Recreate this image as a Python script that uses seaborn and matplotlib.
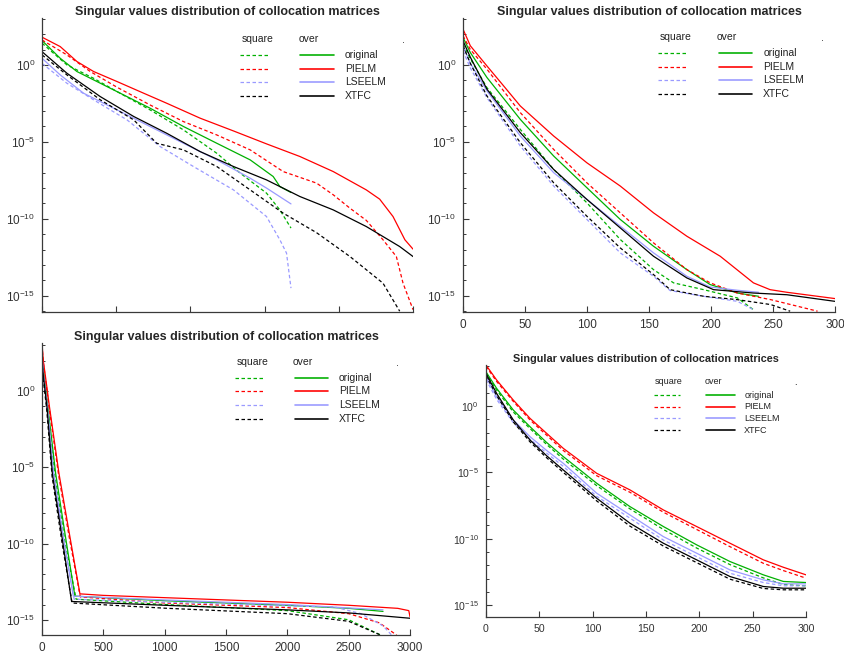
import matplotlib
matplotlib.use("Agg")
import matplotlib.pyplot as plt
import numpy as np
import seaborn as sns
from matplotlib.ticker import FixedLocator, LogFormatterMathtext, NullFormatter

# values as log10 of the singular value
METHODS = ["original", "PIELM", "LSEELM", "XTFC"]
COLORS = {"original": "#00b000", "PIELM": "#ff0000", "LSEELM": "#9a9aff", "XTFC": "#000000"}
TITLE = "Singular values distribution of collocation matrices"

# ---- panel 1 (top left, x tick labels hidden) ----
p1_orig_over_x = [0, 4.9, 9.4, 15.7, 22.9, 29.1, 38.1, 47.1, 56.1, 62.3, 64.1, 67.1]
p1_orig_over_y = [1.58, 0.43, -0.43, -1.19, -2.06, -2.81, -4.0, -5.09, -6.17, -7.25, -7.9, -8.29]
p1_orig_sq_x = [0, 6.7, 13.9, 20.2, 29.1, 38.1, 47.1, 53.4, 60.5, 64.1, 67.1]
p1_orig_sq_y = [1.41, 0.0, -0.87, -1.73, -2.92, -4.22, -5.74, -7.03, -8.33, -9.42, -10.6]
p1_pielm_over_x = [0, 4.9, 9.4, 13.9, 20.2, 27.4, 33.6, 42.6, 51.6, 60.5, 69.5, 78.5, 87.4, 91.0, 94.6, 97.8, 100]
p1_pielm_over_y = [1.8, 1.19, 0.22, -0.43, -1.08, -1.84, -2.49, -3.46, -4.29, -5.13, -5.95, -6.93, -8.12, -8.72, -9.85, -11.36, -11.97]
p1_pielm_sq_x = [0, 6.7, 13, 20.2, 29.1, 38.1, 47.1, 56.1, 65, 74, 78.5, 83, 87.4, 91.9, 95.5, 97.3, 100]
p1_pielm_sq_y = [1.62, 0.65, -0.43, -1.45, -2.6, -3.68, -4.55, -5.52, -6.93, -7.68, -8.44, -9.31, -10.1, -11.36, -12.45, -14.18, -15.9]
p1_lse_over_x = [0, 4.9, 11.2, 20.2, 29.1, 38.1, 47.1, 56.1, 60.5, 67.1]
p1_lse_over_y = [0.43, -0.65, -1.84, -2.92, -4.0, -5.09, -6.17, -7.36, -8.0, -9.03]
p1_lse_sq_x = [0, 6.7, 13.9, 22.9, 31.8, 40.8, 51.6, 60.5, 64.1, 65.9, 67.1]
p1_lse_sq_y = [0.1, -1.19, -2.27, -3.57, -5.3, -6.6, -8.12, -9.85, -11.36, -12.23, -14.5]
p1_xtfc_over_x = [0, 6.7, 15.7, 24.7, 33.6, 42.6, 51.6, 60.5, 69.5, 78.5, 87.4, 96.4, 100]
p1_xtfc_over_y = [0.86, -0.54, -2.06, -3.35, -4.44, -5.63, -6.6, -7.47, -8.55, -9.42, -10.5, -11.8, -12.45]
p1_xtfc_sq_x = [0, 6.7, 15.7, 24.7, 30.9, 38.1, 47.1, 56.1, 65, 74, 83, 91.9, 96.4]
p1_xtfc_sq_y = [0.65, -0.65, -2.27, -3.57, -5.09, -5.52, -6.6, -8.12, -9.63, -10.9, -12.45, -14.18, -16.0]

# ---- panel 2 (top right) ----
p2_orig_over_x = [0, 5.9, 19.3, 46.2, 73.1, 99.9, 126.8, 153.6, 180.5, 199.3, 221.3, 238.3]
p2_orig_over_y = [1.78, 0.8, -0.82, -3.54, -5.92, -7.98, -10.04, -11.78, -13.3, -14.27, -14.82, -15.03]
p2_orig_sq_x = [0, 5.9, 19.3, 46.2, 73.1, 99.9, 126.8, 153.6, 169.8, 194, 221.3, 234.2]
p2_orig_sq_y = [1.34, 0.4, -1.48, -4.19, -6.79, -8.96, -11.34, -13.3, -14.16, -14.6, -15.14, -15.9]
p2_pielm_over_x = [0, 5.9, 19.3, 32.8, 46.2, 73.1, 99.9, 126.8, 153.6, 180.5, 207.4, 234.2, 247.6, 261.1, 300]
p2_pielm_over_y = [2.32, 1.24, -0.07, -1.37, -2.67, -4.62, -6.36, -7.87, -9.61, -11.13, -12.43, -14.16, -14.6, -14.77, -15.18]
p2_pielm_sq_x = [0, 5.9, 19.3, 46.2, 73.1, 99.9, 126.8, 153.6, 180.5, 199.3, 221.3, 248.2, 285.9]
p2_pielm_sq_y = [1.89, 1.0, -0.28, -3.1, -5.49, -7.66, -9.61, -11.56, -13.3, -14.16, -14.82, -15.25, -16.0]
p2_lse_over_x = [0, 5.9, 19.3, 46.2, 73.1, 99.9, 126.8, 153.6, 180.5, 199.3, 221.3, 238.3]
p2_lse_over_y = [1.24, 0.1, -1.69, -4.62, -7.0, -8.74, -10.48, -12.21, -13.73, -14.43, -14.64, -14.77]
p2_lse_sq_x = [0, 5.9, 19.3, 46.2, 73.1, 99.9, 126.8, 153.6, 167, 194, 221.3, 234.2]
p2_lse_sq_y = [0.91, -0.2, -2.13, -5.27, -7.87, -10.04, -12.21, -13.73, -14.66, -15.03, -15.36, -15.9]
p2_xtfc_over_x = [0, 5.9, 19.3, 46.2, 73.1, 99.9, 126.8, 153.6, 180.5, 202, 234.2, 261.1, 300]
p2_xtfc_over_y = [1.56, 0.5, -1.58, -4.4, -6.79, -8.74, -10.59, -12.43, -13.84, -14.6, -14.82, -14.93, -15.36]
p2_xtfc_sq_x = [0, 5.9, 19.3, 46.2, 73.1, 99.9, 126.8, 153.6, 167, 194, 221.3, 248.2, 263.8]
p2_xtfc_sq_y = [1.24, 0.1, -2.02, -5.05, -7.66, -9.83, -11.89, -13.62, -14.6, -15.03, -15.25, -15.57, -16.0]

# ---- panel 3 (bottom left) ----
p3_orig_over_x = [0, 16, 50, 111, 190, 268, 500, 1000, 1500, 2000, 2500, 2780]
p3_orig_over_y = [2.6, 1.18, -1.2, -5.4, -9.5, -13.45, -13.55, -13.75, -13.9, -14.05, -14.25, -14.45]
p3_orig_sq_x = [0, 14, 47, 106, 185, 278, 1000, 2000, 2500, 2760]
p3_orig_sq_y = [2.4, 1.0, -1.4, -5.6, -9.8, -13.65, -14.0, -14.4, -15.0, -16.0]
p3_pielm_over_x = [0, 10, 24, 60, 138, 225, 309, 500, 1000, 1500, 2000, 2500, 2900, 2990, 3000]
p3_pielm_over_y = [3.1, 2.0, 1.2, -1.0, -5.4, -9.45, -13.3, -13.4, -13.55, -13.7, -13.85, -14.05, -14.25, -14.4, -14.8]
p3_pielm_sq_x = [0, 10, 23, 58, 135, 222, 312, 1000, 2000, 2500, 2750, 2890]
p3_pielm_sq_y = [3.0, 1.9, 1.1, -1.1, -5.5, -9.6, -13.5, -13.9, -14.2, -14.6, -15.2, -16.0]
p3_lse_over_x = [0, 11, 44, 95, 175, 255, 1000, 2000, 2780]
p3_lse_over_y = [2.3, 1.18, -1.03, -5.4, -9.6, -13.45, -13.7, -14.0, -14.35]
p3_lse_sq_x = [0, 10, 42, 92, 172, 262, 1000, 2000, 2380, 2600, 2780, 2850]
p3_lse_sq_y = [2.1, 1.0, -1.2, -5.6, -9.8, -13.65, -13.85, -14.1, -14.15, -14.6, -15.4, -16.0]
p3_xtfc_over_x = [0, 8, 40, 84, 165, 241, 1000, 2000, 2500, 3000]
p3_xtfc_over_y = [2.2, 1.18, -1.03, -5.4, -9.7, -13.8, -14.05, -14.35, -14.55, -14.9]
p3_xtfc_sq_x = [0, 7, 38, 82, 162, 245, 1000, 2000, 2500, 2760]
p3_xtfc_sq_y = [2.0, 1.0, -1.2, -5.6, -9.9, -13.9, -14.24, -14.6, -15.1, -16.0]

# ---- panel 4 (bottom right) ----
p4_x = [0, 10, 25.6, 41.3, 56.9, 72.5, 103.8, 135, 166.3, 197.5, 228.8, 260, 278.8, 300]
p4_orig_over_y = [2.58, 1.33, -0.3, -1.56, -2.75, -3.81, -5.82, -7.58, -9.08, -10.46, -11.72, -12.72, -13.22, -13.3]
p4_orig_sq_y = [2.5, 1.2, -0.45, -1.7, -2.9, -4.0, -6.0, -7.75, -9.3, -10.7, -11.95, -12.95, -13.45, -13.55]
p4_pielm_over_y = [3.09, 1.96, 0.45, -0.93, -2.06, -3.19, -5.07, -6.32, -7.83, -9.08, -10.34, -11.59, -12.15, -12.72]
p4_pielm_sq_y = [3.0, 1.85, 0.35, -1.05, -2.2, -3.35, -5.25, -6.5, -8.0, -9.3, -10.6, -11.85, -12.4, -12.97]
p4_lse_over_y = [2.2, 0.7, -1.05, -2.31, -3.35, -4.32, -6.57, -8.21, -9.84, -11.09, -12.35, -13.1, -13.4, -13.4]
p4_lse_sq_y = [2.0, 0.5, -1.25, -2.5, -3.55, -4.55, -6.8, -8.45, -10.1, -11.35, -12.6, -13.3, -13.55, -13.55]
p4_xtfc_over_y = [2.46, 0.95, -1.05, -2.56, -3.75, -4.82, -6.95, -8.83, -10.34, -11.59, -12.85, -13.6, -13.73, -13.73]
p4_xtfc_sq_y = [2.3, 0.8, -1.2, -2.7, -3.9, -5.0, -7.15, -9.05, -10.55, -11.8, -13.05, -13.75, -13.85, -13.85]

PANELS = [
    {
        "rect": [0.0498, 0.5237, 0.4396, 0.4489], "xlim": (0, 100), "xticks": [0, 20, 40, 60, 80, 100],
        "ylim": (-16.05, 3.05), "xlabels": False, "fs": (9.0, 8.5, 7.5), "key_dx": 0.009, "key_dy": -0.006,
        "series": {
            ("original", "over"): (p1_orig_over_x, p1_orig_over_y),
            ("original", "square"): (p1_orig_sq_x, p1_orig_sq_y),
            ("PIELM", "over"): (p1_pielm_over_x, p1_pielm_over_y),
            ("PIELM", "square"): (p1_pielm_sq_x, p1_pielm_sq_y),
            ("LSEELM", "over"): (p1_lse_over_x, p1_lse_over_y),
            ("LSEELM", "square"): (p1_lse_sq_x, p1_lse_sq_y),
            ("XTFC", "over"): (p1_xtfc_over_x, p1_xtfc_over_y),
            ("XTFC", "square"): (p1_xtfc_sq_x, p1_xtfc_sq_y),
        },
    },
    {
        "rect": [0.5486, 0.5237, 0.4408, 0.4489], "xlim": (0, 300), "xticks": [0, 50, 100, 150, 200, 250, 300],
        "ylim": (-16.05, 3.05), "xlabels": True, "fs": (9.0, 8.5, 7.5), "key_dx": 0.0, "key_dy": 0.0,
        "series": {
            ("original", "over"): (p2_orig_over_x, p2_orig_over_y),
            ("original", "square"): (p2_orig_sq_x, p2_orig_sq_y),
            ("PIELM", "over"): (p2_pielm_over_x, p2_pielm_over_y),
            ("PIELM", "square"): (p2_pielm_sq_x, p2_pielm_sq_y),
            ("LSEELM", "over"): (p2_lse_over_x, p2_lse_over_y),
            ("LSEELM", "square"): (p2_lse_sq_x, p2_lse_sq_y),
            ("XTFC", "over"): (p2_xtfc_over_x, p2_xtfc_over_y),
            ("XTFC", "square"): (p2_xtfc_sq_x, p2_xtfc_sq_y),
        },
    },
    {
        "rect": [0.0498, 0.0305, 0.4360, 0.4458], "xlim": (0, 3000), "xticks": [0, 500, 1000, 1500, 2000, 2500, 3000],
        "ylim": (-16.0, 3.15), "xlabels": True, "fs": (9.0, 8.5, 7.5), "key_dx": 0.0, "key_dy": 0.0,
        "series": {
            ("original", "over"): (p3_orig_over_x, p3_orig_over_y),
            ("original", "square"): (p3_orig_sq_x, p3_orig_sq_y),
            ("PIELM", "over"): (p3_pielm_over_x, p3_pielm_over_y),
            ("PIELM", "square"): (p3_pielm_sq_x, p3_pielm_sq_y),
            ("LSEELM", "over"): (p3_lse_over_x, p3_lse_over_y),
            ("LSEELM", "square"): (p3_lse_sq_x, p3_lse_sq_y),
            ("XTFC", "over"): (p3_xtfc_over_x, p3_xtfc_over_y),
            ("XTFC", "square"): (p3_xtfc_sq_x, p3_xtfc_sq_y),
        },
    },
    {
        "rect": [0.5758, 0.0580, 0.3791, 0.3847], "xlim": (0, 300), "xticks": [0, 50, 100, 150, 200, 250, 300],
        "ylim": (-15.9, 3.09), "xlabels": True, "fs": (7.8, 7.6, 6.5), "key_dx": 0.0, "key_dy": 0.0,
        "series": {
            ("original", "over"): (p4_x, p4_orig_over_y),
            ("original", "square"): (p4_x, p4_orig_sq_y),
            ("PIELM", "over"): (p4_x, p4_pielm_over_y),
            ("PIELM", "square"): (p4_x, p4_pielm_sq_y),
            ("LSEELM", "over"): (p4_x, p4_lse_over_y),
            ("LSEELM", "square"): (p4_x, p4_lse_sq_y),
            ("XTFC", "over"): (p4_x, p4_xtfc_over_y),
            ("XTFC", "square"): (p4_x, p4_xtfc_sq_y),
        },
    },
]

DASH = (0, (2.8, 2.0))
LW = 0.9
AXIS_GRAY = "#3a3a3a"

sns.set_style("ticks")
plt.rcParams["font.family"] = ["Liberation Sans", "DejaVu Sans"]
plt.rcParams["mathtext.fontset"] = "custom"
plt.rcParams["mathtext.rm"] = "Liberation Sans"
plt.rcParams["mathtext.default"] = "regular"


def draw_key(ax, fs, dx, dy):
    tr = ax.transAxes
    txt = dict(transform=tr, fontsize=fs, color="#222222", va="center", ha="left")
    ax.text(0.528 + dx, 0.935 + dy, "square", **txt)
    ax.text(0.682 + dx, 0.935 + dy, "over", **txt)
    ax.text(0.962 + dx, 0.932 + dy, ".", **txt)
    for method, yy in zip(METHODS, [0.880, 0.834, 0.788, 0.741]):
        yy += dy
        ax.plot([0.525 + dx, 0.606 + dx], [yy, yy], transform=tr, color=COLORS[method], lw=LW, linestyle=DASH)
        ax.plot([0.687 + dx, 0.777 + dx], [yy, yy], transform=tr, color=COLORS[method], lw=LW * 1.3)
        ax.text(0.807 + dx, yy, method, **txt)


def draw_panel(fig, panel):
    ax = fig.add_axes(panel["rect"])
    ax.set_yscale("log")
    for method in METHODS:
        for kind in ("square", "over"):
            xs, ys = panel["series"][(method, kind)]
            sns.lineplot(
                x=np.asarray(xs, dtype=float),
                y=10.0 ** np.asarray(ys, dtype=float),
                ax=ax,
                color=COLORS[method],
                linewidth=LW,
                linestyle="-" if kind == "over" else DASH,
                estimator=None,
                sort=False,
            )
    ax.set_xlim(*panel["xlim"])
    ax.set_ylim(10.0 ** panel["ylim"][0], 10.0 ** panel["ylim"][1])
    ax.set_xticks(panel["xticks"])
    ax.yaxis.set_major_locator(FixedLocator([1e-15, 1e-10, 1e-5, 1e0]))
    ax.yaxis.set_major_formatter(LogFormatterMathtext())
    minors = [10.0 ** k for k in range(-16, 4) if k % 5 != 0]
    ax.yaxis.set_minor_locator(FixedLocator(minors))
    ax.yaxis.set_minor_formatter(NullFormatter())
    fs_title, fs_tick, fs_key = panel["fs"]
    ax.tick_params(which="major", direction="in", length=4, width=0.8, color=AXIS_GRAY,
                   labelsize=fs_tick, labelcolor="#333333", pad=5)
    ax.tick_params(which="minor", direction="in", length=2.5, width=0.7, color=AXIS_GRAY)
    if not panel["xlabels"]:
        ax.tick_params(axis="x", labelbottom=False)
    sns.despine(ax=ax)
    for side in ("left", "bottom"):
        ax.spines[side].set_color(AXIS_GRAY)
        ax.spines[side].set_linewidth(0.9)
    ax.set_xlabel("")
    ax.set_ylabel("")
    ax.set_title(TITLE, fontsize=fs_title, fontweight="bold", pad=2)
    draw_key(ax, fs_key, panel["key_dx"], panel["key_dy"])
    return ax


fig = plt.figure(figsize=(8.44, 6.55), dpi=100)
for panel in PANELS:
    draw_panel(fig, panel)
fig.savefig("out.png", dpi=100)
